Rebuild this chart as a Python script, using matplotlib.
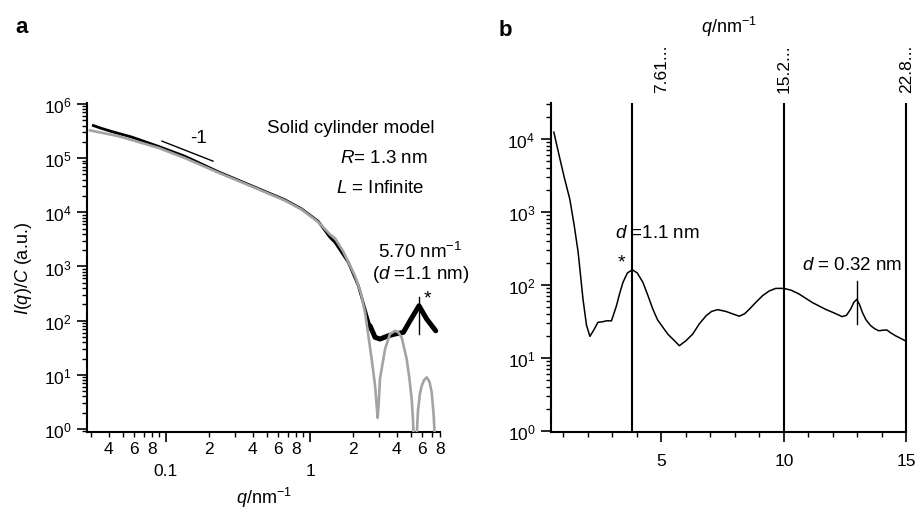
import numpy as np
import matplotlib
matplotlib.use("Agg")
import matplotlib.pyplot as plt
from matplotlib.ticker import LogLocator, FuncFormatter, MultipleLocator, NullFormatter

plt.rcParams['font.family'] = ['Liberation Sans', 'DejaVu Sans']
plt.rcParams['mathtext.fontset'] = 'custom'
plt.rcParams['mathtext.rm'] = 'Liberation Sans'
plt.rcParams['mathtext.it'] = 'Liberation Sans:italic'
plt.rcParams['mathtext.bf'] = 'Liberation Sans:bold'

# panel a: measured data (black) and solid cylinder fit (grey)
q_data = [0.0313, 0.035, 0.042, 0.0578, 0.0885, 0.1355, 0.231, 0.394, 0.670, 0.876,
          1.142, 1.377, 1.49, 1.845, 2.165, 2.41, 2.61, 2.83, 3.06, 3.50, 3.89,
          4.45, 4.95, 5.71, 6.46, 7.46]
I_data = [4.0e5, 3.6e5, 3.1e5, 2.45e5, 1.65e5, 1.08e5, 5.59e4, 3.08e4, 1.70e4, 1.15e4,
          6800, 3440, 2790, 1190, 441, 164, 80.5, 49.2, 45.8, 52.6, 56.6,
          60.8, 99.6, 188, 107, 65]

q_fit = [0.0297, 0.0466, 0.0885, 0.1355, 0.231, 0.394, 0.670, 0.876, 1.142, 1.377,
         1.49, 1.70, 2.05, 2.25, 2.41, 2.55, 2.68, 2.83, 2.90, 2.95, 3.00, 3.06,
         3.32, 3.59, 3.89, 4.10, 4.33, 4.69, 4.90, 5.08, 5.18, 5.25, 5.32,
         5.45, 5.50, 5.62, 5.80, 5.97, 6.20, 6.46, 6.75, 7.0, 7.22, 7.36, 7.45]
I_fit = [3.25e5, 2.55e5, 1.55e5, 1.0e5, 5.4e4, 3.0e4, 1.65e4, 1.12e4, 6600, 3900,
         3340, 1900, 673, 330, 142, 50, 19.6, 6.3, 2.8, 1.6, 3.0, 8.4,
         29.9, 56.6, 65, 61, 49, 19.6, 8.5, 3.6, 1.6, 0.7, 0.2,
         0.2, 0.7, 2.2, 4.5, 6.3, 8.0, 9.0, 7.5, 4.75, 1.8, 0.7, 0.2]

# panel b: wide-angle profile
q_b = [0.62, 0.87, 1.05, 1.27, 1.45, 1.61, 1.81, 1.95, 2.09, 2.25, 2.42, 2.6, 2.76,
       2.97, 3.17, 3.30, 3.44, 3.62, 3.82, 4.02, 4.25, 4.45, 4.66, 4.85, 5.07,
       5.27, 5.47, 5.74, 6.0, 6.28, 6.55, 6.83, 7.05, 7.30, 7.64, 7.9, 8.18, 8.4,
       8.59, 8.85, 9.13, 9.4, 9.67, 10.0, 10.3, 10.62, 11.16, 11.7, 12.05, 12.38,
       12.55, 12.72, 12.85, 12.97, 13.08, 13.2, 13.35, 13.54, 13.7, 13.87, 14.05,
       14.2, 14.35, 14.55, 14.75, 14.96]
I_b = [12300, 5250, 2900, 1490, 650, 280, 63, 28, 19.6, 24, 30.6, 31, 32,
       32, 51, 75, 108, 145, 160, 145, 108, 72, 46, 33, 26,
       21, 18, 14.6, 17, 21, 29, 37.6, 43, 45.5, 43, 40, 37, 40,
       46, 57, 70.6, 82, 89, 89, 84, 74.6, 57, 46, 41, 36.5,
       38, 46, 57, 63, 54, 42, 33, 27.5, 25, 23.4, 23.8,
       24, 22, 20, 18.5, 17]

peak_lines_b = [3.8, 10, 15]
top_ticks = [5, 10, 15]
top_labels = ['7.61...', '15.2...', '22.8...']

fig = plt.figure(figsize=(9.17, 5.10), dpi=100)
axa = fig.add_axes([0.0949, 0.151, 0.385, 0.645])
axb = fig.add_axes([0.6005, 0.151, 0.388, 0.645])

# ---- panel a ----
q_data = np.array(q_data)
I_data = np.array(I_data)
axa.plot(q_data, I_data, color='black', lw=2.0, zorder=2)
hi = q_data >= 2.5
axa.plot(q_data[hi], I_data[hi], color='black', lw=3.6, solid_capstyle='round', zorder=2)
axa.plot(q_fit, I_fit, color='#a3a3a3', lw=1.9, zorder=3)

axa.set_xscale('log')
axa.set_yscale('log')
xlo, xhi = 0.0283, 8.0
axa.set_xlim(xlo, xhi)
axa.set_ylim(0.88, 1.04e6)
for s in ['top', 'right']:
    axa.spines[s].set_visible(False)
for s in ['left', 'bottom']:
    axa.spines[s].set_linewidth(1.5)

# minor ticks only inside the visible range
minor_x = [m * 10.0 ** e for e in (-2, -1, 0) for m in range(2, 10)
           if xlo <= m * 10.0 ** e <= xhi]
axa.set_xticks([0.1, 1])
axa.set_xticks(minor_x, minor=True)
axa.xaxis.set_major_formatter(FuncFormatter(lambda v, p: '%g' % v))


def minor_lab(v, p):
    m = int(round(v / 10 ** np.floor(np.log10(v))))
    return str(m) if m in (2, 4, 6, 8) else ''


axa.xaxis.set_minor_formatter(FuncFormatter(minor_lab))
axa.yaxis.set_minor_locator(LogLocator(base=10, subs=np.arange(2, 10), numticks=20))
axa.yaxis.set_minor_formatter(NullFormatter())
axa.yaxis.set_major_locator(LogLocator(base=10, numticks=10))
axa.tick_params(axis='both', which='major', direction='out', length=7, width=1.2, labelsize=12.5)
axa.tick_params(axis='both', which='minor', direction='out', length=3.5, width=1.0, labelsize=12.5)
axa.tick_params(axis='x', which='major', pad=15)
axa.tick_params(axis='x', which='minor', pad=3)
axa.tick_params(axis='y', which='major', pad=4)

axa.set_xlabel(r'$q$/nm$^{-1}$', fontsize=13, labelpad=5)
axa.set_ylabel(r'$I$($q$)/$C$ (a.u.)', fontsize=13, labelpad=7)

axa.plot([0.0938, 0.212], [2.06e5, 8.81e4], color='black', lw=1.0)
axa.text(0.167, 2.44e5, '-1', fontsize=13.5, ha='center', va='center')
axa.text(0.503, 3.73e5, 'Solid cylinder model', fontsize=13.5, va='center')
axa.text(1.616, 1.04e5, r'$R$= 1.3 nm', fontsize=13.5, va='center')
axa.text(1.516, 2.92e4, r'$L$ = Infinite', fontsize=13.5, va='center')
axa.text(2.97, 1924, r'5.70 nm$^{-1}$', fontsize=13.5, va='center')
axa.text(2.70, 755, r'($d$ =1.1 nm)', fontsize=13.5, va='center')
axa.plot([5.71, 5.71], [272, 56.6], color='black', lw=1.0, zorder=4)
axa.text(6.49, 262, '*', fontsize=14, ha='center', va='center')

# ---- panel b ----
axb.plot(q_b, I_b, color='black', lw=1.1)
axb.set_yscale('log')
axb.set_xlim(0.49, 15)
axb.set_ylim(0.96, 3.08e4)
for s in ['top', 'right']:
    axb.spines[s].set_visible(False)
for s in ['left', 'bottom']:
    axb.spines[s].set_linewidth(1.5)
axb.vlines(peak_lines_b, 0, 1, transform=axb.get_xaxis_transform(), color='black',
           lw=1.5, clip_on=False)
axb.xaxis.set_major_locator(MultipleLocator(5))
axb.xaxis.set_minor_locator(MultipleLocator(1))
axb.yaxis.set_major_locator(LogLocator(base=10, numticks=10))
axb.yaxis.set_minor_locator(LogLocator(base=10, subs=np.arange(2, 10), numticks=20))
axb.yaxis.set_minor_formatter(NullFormatter())
axb.tick_params(axis='both', which='major', direction='out', length=7, width=1.2, labelsize=12.5)
axb.tick_params(axis='both', which='minor', direction='out', length=3.5, width=1.0)
axb.tick_params(axis='x', which='major', pad=8)
axb.tick_params(axis='y', which='major', pad=4)

axb.plot([12.97, 12.97], [112, 29], color='black', lw=1.0)
axb.text(4.85, 511, r'$d$ =1.1 nm', fontsize=13.5, ha='center', va='center')
axb.text(3.39, 205, '*', fontsize=14, ha='center', va='center')
axb.text(14.85, 192, r'$d$ = 0.32 nm', fontsize=13.5, ha='right', va='center')

axt = axb.twiny()
axt.set_xlim(axb.get_xlim())
for s in axt.spines.values():
    s.set_visible(False)
axt.set_xticks(top_ticks)
axt.set_xticklabels(top_labels, rotation=90, fontsize=12.5)
axt.tick_params(axis='x', length=0, pad=8)
axt.set_xlabel(r'$q$/nm$^{-1}$', fontsize=13, labelpad=8)

fig.text(0.024, 0.946, 'a', fontsize=16, fontweight='bold', ha='center', va='center')
fig.text(0.551, 0.941, 'b', fontsize=16, fontweight='bold', ha='center', va='center')

fig.savefig('out.png', dpi=100)
